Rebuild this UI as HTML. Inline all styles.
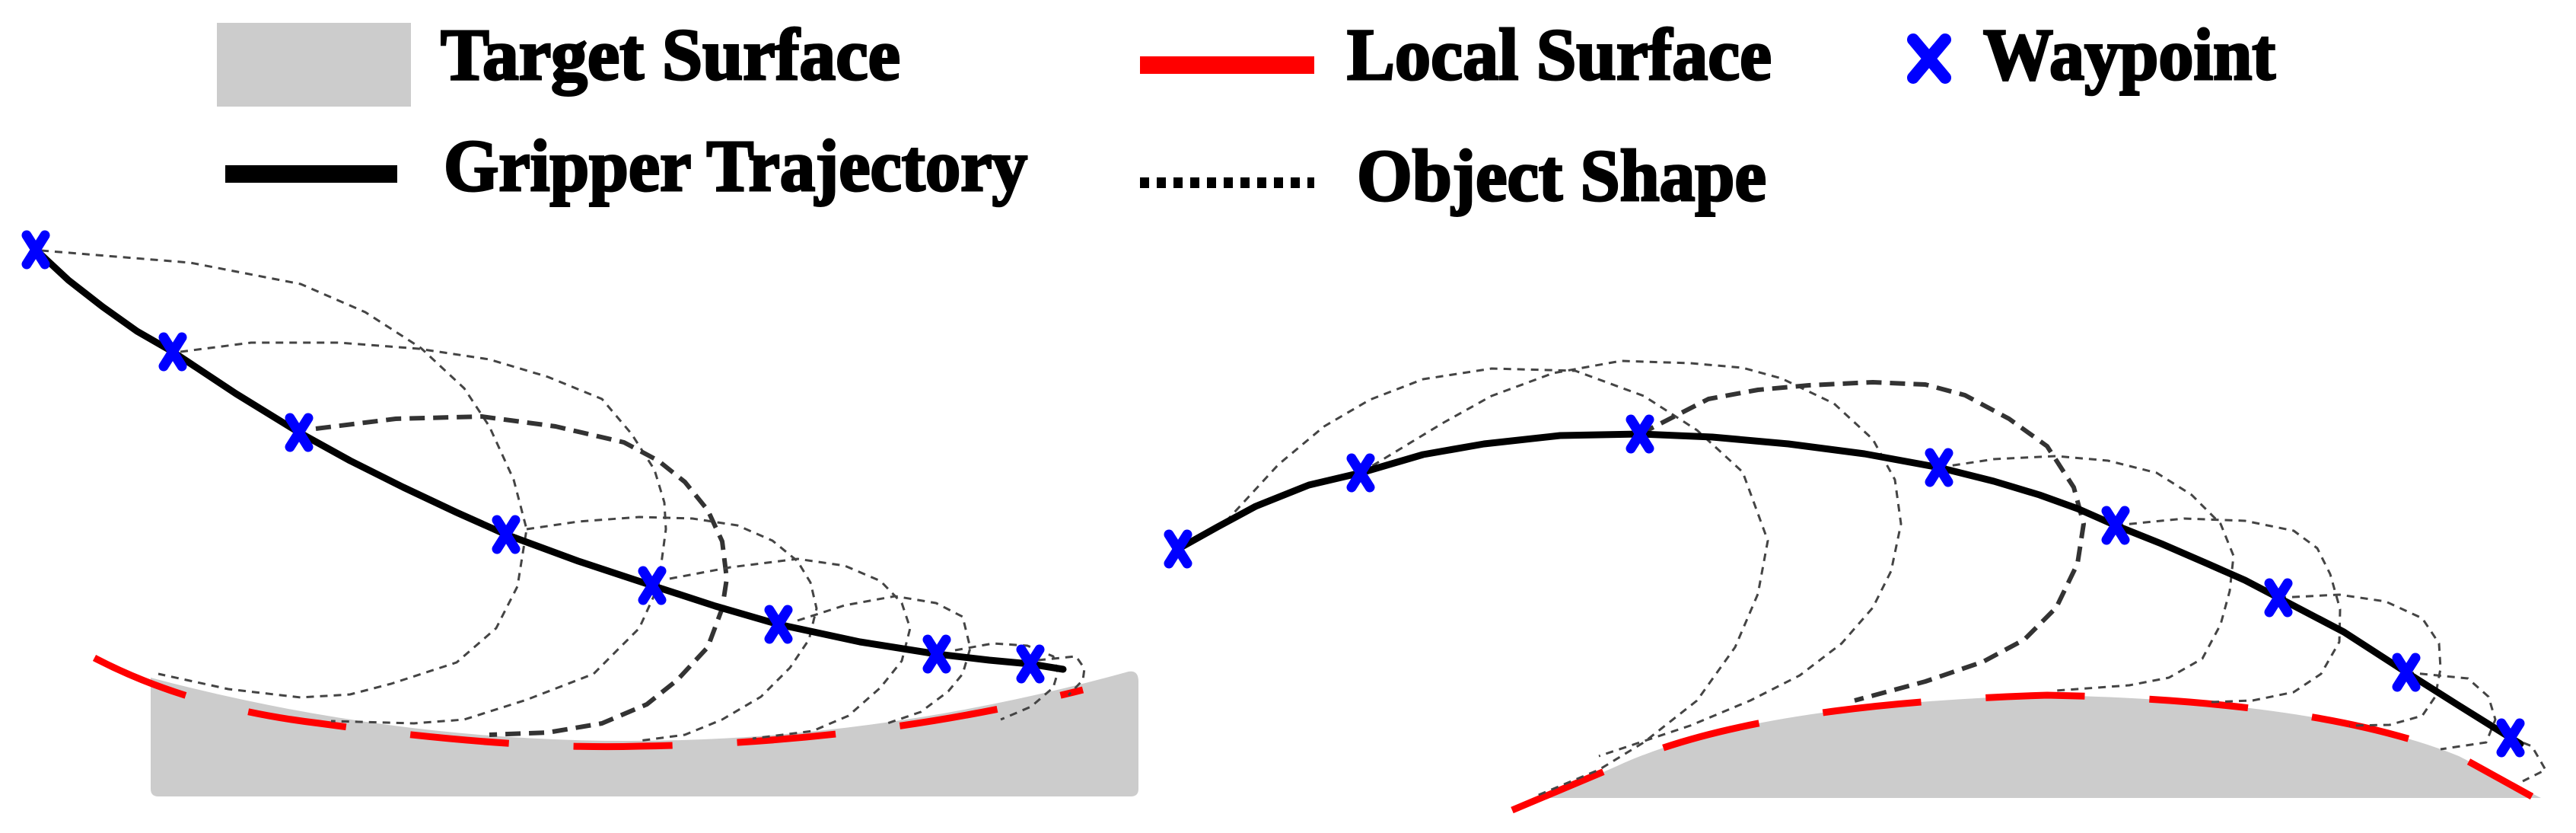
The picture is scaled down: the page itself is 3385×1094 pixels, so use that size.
<!DOCTYPE html>
<html><head><meta charset="utf-8"><style>
html,body{margin:0;padding:0;background:#fff;}
svg{display:block;}
.lg{font-family:"Liberation Serif",serif;font-weight:bold;font-size:96px;fill:#000;stroke:#000;stroke-width:3px;}
.o{fill:none;stroke:#444;stroke-width:3;stroke-dasharray:10 8;stroke-linejoin:round;}
.ot{fill:none;stroke:#333;stroke-width:6;stroke-dasharray:20 11;stroke-linejoin:round;}
.wp{stroke:#0000ff;stroke-width:13;stroke-linecap:round;}
.tr{fill:none;stroke:#000;stroke-width:9;stroke-linecap:round;stroke-linejoin:round;}
</style></head><body>
<svg width="3385" height="1094" viewBox="0 0 3385 1094" xmlns="http://www.w3.org/2000/svg">
<defs>
<g id="x"><line class="wp" x1="-12" y1="-19" x2="12" y2="19"/><line class="wp" x1="12" y1="-19" x2="-12" y2="19"/></g>
</defs>
<!-- legend -->
<rect x="285" y="30" width="255" height="110" fill="#cccccc"/>
<text class="lg" x="579" y="104" textLength="604" lengthAdjust="spacingAndGlyphs">Target Surface</text>
<rect x="1498" y="74" width="229" height="23" fill="#ff0000"/>
<text class="lg" x="1770" y="104" textLength="558" lengthAdjust="spacingAndGlyphs">Local Surface</text>
<g stroke="#0000ff" stroke-width="16" stroke-linecap="round">
<line x1="2514" y1="52" x2="2556" y2="102"/><line x1="2556" y1="52" x2="2514" y2="102"/>
</g>
<text class="lg" x="2606" y="104" textLength="384" lengthAdjust="spacingAndGlyphs">Waypoint</text>
<rect x="296" y="217" width="226" height="23" fill="#000"/>
<text class="lg" x="583" y="250" textLength="767" lengthAdjust="spacingAndGlyphs">Gripper Trajectory</text>
<line x1="1498" y1="240" x2="1727" y2="240" stroke="#000" stroke-width="14" stroke-dasharray="12 10"/>
<text class="lg" x="1783" y="263" textLength="538" lengthAdjust="spacingAndGlyphs">Object Shape</text>

<!-- left panel -->
<path d="M198,890 Q840,1060 1483,882 Q1496,880 1496,895 L1496,1036 Q1496,1046 1486,1046 L208,1046 Q198,1046 198,1036 Z" fill="#cccccc"/>
<path d="M124,864 Q250,930 420,950 Q672,985 840,980 Q1150,975 1423,906" fill="none" stroke="#ff0000" stroke-width="9" stroke-dasharray="130 85"/>
<polyline class="o" points="54,329 250,345 395,373 480,410 553,457 610,510 643,560 675,630 692,695 680,770 652,825 600,870 514,898 460,912 395,916 300,905 208,885"/>
<polyline class="o" points="237,462 330,450 445,450 550,458 643,472 720,495 791,524 830,570 860,617 873,660 875,695 865,770 840,825 780,885 692,919 610,945 544,950 435,947"/>
<polyline class="ot" points="415,563 520,550 633,547 730,560 820,581 865,605 900,633 930,670 949,711 955,760 949,799 930,850 890,893 850,925 791,950 720,962 643,965"/>
<polyline class="o" points="692,695 760,685 840,679 910,681 969,690 1015,710 1048,737 1065,765 1073,799 1063,840 1038,877 1000,915 949,945 900,965 840,973"/>
<polyline class="o" points="880,760 960,745 1048,734 1110,743 1157,763 1185,792 1196,825 1185,868 1157,903 1115,940 1068,960 989,970"/>
<polyline class="o" points="1048,815 1110,795 1176,783 1230,792 1265,810 1275,851 1265,885 1246,908 1210,935 1166,950"/>
<polyline class="o" points="1255,854 1305,845 1350,848 1384,862 1390,883 1384,903 1355,928 1315,945"/>
<polyline class="o" points="1364,867 1414,862 1425,878 1423,893 1404,913"/>
<polyline class="tr" points="47,328 90,368 135,403 180,435 227,462 310,517 393,568 460,605 530,640 600,673 665,702 760,737 857,769 940,796 1023,820 1130,843 1231,859 1300,867 1354,872 1397,879"/>
<use href="#x" transform="translate(47,328)"/>
<use href="#x" transform="translate(227,462)"/>
<use href="#x" transform="translate(393,568)"/>
<use href="#x" transform="translate(665,702)"/>
<use href="#x" transform="translate(857,769)"/>
<use href="#x" transform="translate(1023,820)"/>
<use href="#x" transform="translate(1231,859)"/>
<use href="#x" transform="translate(1354,872)"/>

<!-- right panel -->
<path d="M2029,1048 L2125,1006 Q2300,925 2690,913 Q3050,920 3231,993 L3339,1048 Z" fill="#cccccc"/>
<path d="M1987,1064 L2125,1006 Q2300,925 2690,913 Q3050,920 3231,993 L3327,1046" fill="none" stroke="#ff0000" stroke-width="9" stroke-dasharray="130 85"/>
<polyline class="o" points="1548,721 1608,688 1680,610 1740,560 1800,525 1870,498 1960,484 2070,487 2160,520 2230,565 2290,620 2323,710 2310,780 2280,850 2230,920 2160,975 2101,1011 2017,1046"/>
<polyline class="o" points="1788,621 1897,555 1960,520 2041,490 2130,474 2221,477 2290,483 2341,497 2410,530 2461,577 2490,630 2498,688 2485,750 2461,798 2420,845 2365,887 2300,920 2221,953 2101,993"/>
<polyline class="ot" points="2155,570 2245,524 2310,512 2377,506 2461,502 2530,505 2582,519 2640,550 2690,586 2725,640 2738,688 2730,740 2702,798 2660,840 2606,869 2530,895 2437,920"/>
<polyline class="o" points="2548,614 2620,603 2702,599 2770,605 2834,621 2880,650 2918,688 2935,730 2930,776 2918,820 2894,865 2850,890 2798,900 2702,907"/>
<polyline class="o" points="2780,690 2870,681 2950,684 3014,697 3045,720 3062,754 3075,800 3074,843 3050,885 3014,909 2960,920 2906,922"/>
<polyline class="o" points="2994,785 3074,781 3135,790 3183,812 3205,845 3207,878 3200,915 3183,940 3140,952 3087,953"/>
<polyline class="o" points="3162,883 3243,891 3270,915 3279,945 3267,975 3207,984"/>
<polyline class="o" points="3299,969 3327,980 3345,1011 3315,1026"/>
<polyline class="tr" points="1548,721 1600,692 1650,665 1720,637 1788,621 1870,597 1950,583 2050,572 2155,570 2250,574 2350,583 2450,596 2548,614 2620,632 2680,650 2730,668 2780,690 2840,714 2900,740 2950,762 2994,785 3080,830 3162,883 3230,926 3299,969 3312,977"/>
<use href="#x" transform="translate(1548,721)"/>
<use href="#x" transform="translate(1788,621)"/>
<use href="#x" transform="translate(2155,570)"/>
<use href="#x" transform="translate(2548,614)"/>
<use href="#x" transform="translate(2780,690)"/>
<use href="#x" transform="translate(2994,785)"/>
<use href="#x" transform="translate(3162,883)"/>
<use href="#x" transform="translate(3299,969)"/>
</svg>
</body></html>
